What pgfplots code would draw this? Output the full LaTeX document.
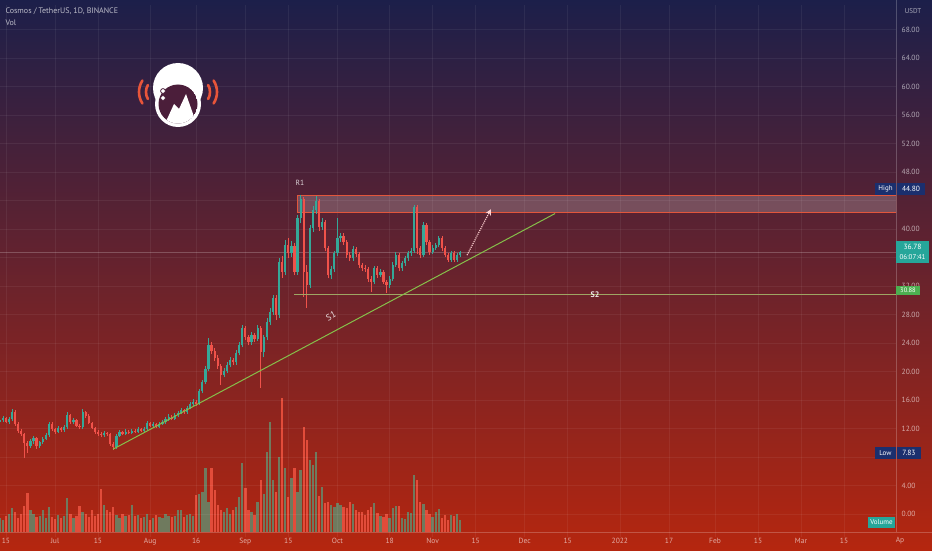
\documentclass[border=0pt]{standalone}
\usepackage{fontspec}
\setmainfont{PT Sans}
\usepackage{pgfplots}
\pgfplotsset{compat=1.18}
\usepackage{pgfplotstable}
\usetikzlibrary{arrows.meta}

\definecolor{bgtop}{HTML}{1C1F4A}
\definecolor{bgmid}{HTML}{6E1F30}
\definecolor{bgbot}{HTML}{B5260F}
\definecolor{upc}{HTML}{35A898}
\definecolor{dnc}{HTML}{F0524A}
\definecolor{volup}{HTML}{6F7A5E}
\definecolor{voldn}{HTML}{E24C3A}
\definecolor{sone}{HTML}{86BF4A}
\definecolor{stwo}{HTML}{9EA663}
\definecolor{zone}{HTML}{E2563C}
\definecolor{navy}{HTML}{1B2F6E}
\definecolor{tealbox}{HTML}{26A69A}
\definecolor{lgreen}{HTML}{4CAF50}
\definecolor{orng}{HTML}{E8553A}
\definecolor{visor}{HTML}{4B1E3A}

% day (0 = 1 Jul 2021), open, high, low, close, volume
\pgfplotstableread{
d o h l c v
-18 13.0 13.6 12.8 13.2 14
-17 13.2 13.8 13.0 13.5 12
-16 13.5 13.7 12.8 13.0 16
-15 13.0 13.6 12.7 13.3 18
-14 13.3 14.8 13.1 14.4 24
-13 14.4 14.6 12.4 12.6 20
-12 12.6 12.9 11.4 11.7 14
-11 11.7 12.0 11.0 11.2 18
-10 11.2 11.4 7.83 10.0 26
-9 10.0 10.3 8.6 9.6 39
-8 9.6 10.5 9.3 10.2 22
-7 10.2 11.0 9.9 10.7 18
-6 10.7 10.9 9.2 9.5 15
-5 9.5 10.3 9.3 10.1 16
-4 10.1 10.9 9.9 10.6 22
-3 10.6 11.4 10.4 11.1 14
-2 11.1 13.0 10.9 12.7 25
-1 12.7 12.9 11.7 11.9 15
0 11.9 12.1 11.3 11.6 13
1 11.6 12.4 11.4 12.1 17
2 12.1 12.3 11.6 11.8 14
3 11.8 12.5 11.6 12.2 16
4 12.2 14.3 12.0 13.9 34
5 13.9 14.1 12.7 12.9 18
6 12.9 13.5 12.6 13.2 14
7 13.2 13.4 12.2 12.4 16
8 12.4 12.7 11.9 12.2 26
9 12.2 14.7 12.0 14.3 20
10 14.3 14.5 13.5 13.8 18
11 13.8 14.0 12.6 12.8 15
12 12.8 13.0 11.9 12.1 22
13 12.1 12.3 11.3 11.5 16
14 11.5 11.8 11.0 11.3 18
15 11.3 11.6 10.8 11.1 43
16 11.1 11.7 10.9 11.4 27
17 11.4 11.6 11.0 11.2 22
18 11.2 11.4 9.6 9.8 20
19 9.8 10.1 9.0 9.4 25
20 9.4 11.3 9.2 11.0 17
21 11.0 11.8 10.8 11.5 14
22 11.5 11.7 11.1 11.3 18
23 11.3 11.9 11.1 11.6 16
24 11.6 11.8 11.2 11.4 17
25 11.4 12.0 11.2 11.7 27
26 11.7 11.9 11.4 11.6 16
27 11.6 12.2 11.4 11.9 17
28 11.9 12.1 11.5 11.7 14
29 11.7 12.3 11.5 12.0 15
30 12.0 13.1 11.8 12.8 18
31 12.8 13.0 12.2 12.4 12
32 12.4 12.9 12.2 12.6 14
33 12.6 12.8 12.1 12.3 17
34 12.3 13.0 12.1 12.7 15
35 12.7 13.2 12.5 12.9 14
36 12.9 13.6 12.7 13.3 18
37 13.3 14.0 13.1 13.7 16
38 13.7 13.9 13.2 13.4 15
39 13.4 14.2 13.2 13.9 16
40 13.9 14.5 13.7 14.2 22
41 14.2 14.9 14.0 14.6 22
42 14.6 14.8 14.1 14.3 15
43 14.3 15.2 14.1 14.9 17
44 14.9 15.7 14.7 15.4 18
45 15.4 16.2 15.2 15.8 16
46 15.8 16.0 15.2 15.5 37
47 15.5 17.6 15.3 17.3 38
48 17.3 18.9 17.0 18.5 40
49 18.5 20.8 18.2 20.4 64
50 20.4 24.7 20.1 23.8 30
51 23.8 24.2 22.5 22.9 64
52 22.9 23.3 21.5 21.9 42
53 21.9 22.3 20.4 20.8 27
54 20.8 21.1 18.1 19.5 22
55 19.5 20.5 19.2 20.1 20
56 20.1 21.3 19.8 20.9 24
57 20.9 22.0 20.6 21.6 18
58 21.6 21.9 20.9 21.3 22
59 21.3 23.0 21.0 22.6 25
60 22.6 24.1 22.3 23.7 35
61 23.7 26.5 23.4 26.1 69
62 26.1 26.4 24.5 24.9 44
63 24.9 25.2 23.7 24.1 22
64 24.1 25.5 23.8 25.1 20
65 25.1 25.4 24.2 24.6 17
66 24.6 26.6 24.3 26.1 30
67 26.1 26.4 17.7 22.7 52
68 22.7 25.2 22.0 24.8 38
69 24.8 27.5 24.4 27.0 80
70 27.0 28.9 26.5 28.4 110
71 28.4 30.8 28.0 30.3 52
72 30.3 30.7 27.3 28.0 40
73 28.0 35.9 27.6 35.4 75
74 35.4 36.2 33.2 34.0 134
75 34.0 38.5 33.6 37.8 64
76 37.8 38.8 36.0 36.6 35
77 36.6 38.4 36.1 37.6 54
78 37.6 38.0 33.5 34.0 64
79 34.0 42.0 33.6 41.5 40
80 41.5 44.8 40.8 44.2 62
81 44.2 44.5 30.5 34.0 105
82 34.0 35.0 29.0 32.2 92
83 32.2 40.6 31.8 40.1 72
84 40.1 43.2 39.6 42.7 67
85 42.7 44.6 42.2 44.0 80
86 44.0 44.3 39.8 40.3 36
87 40.3 41.6 39.9 41.0 45
88 41.0 41.3 36.9 37.3 29
89 37.3 37.6 33.1 33.6 30
90 33.6 34.9 33.0 34.4 27
91 34.4 37.0 34.0 36.6 25
92 36.6 41.5 36.2 38.7 29
93 38.7 39.5 38.2 39.0 27
94 39.0 39.4 37.8 38.2 25
95 38.2 38.5 36.0 36.4 24
96 36.4 36.8 35.5 35.9 30
97 35.9 37.6 35.6 37.2 28
98 37.2 37.5 36.1 36.5 22
99 36.5 36.8 34.6 35.0 20
100 35.0 35.3 34.2 34.6 20
101 34.6 35.0 34.0 34.4 17
102 34.4 34.7 32.6 33.0 22
103 33.0 33.4 31.2 32.6 25
104 32.6 34.9 32.3 34.5 29
105 34.5 34.8 33.2 33.6 19
106 33.6 34.4 33.3 34.0 16
107 34.0 34.3 32.3 32.6 15
108 32.6 32.9 31.1 32.1 18
109 32.1 33.4 31.8 33.0 14
110 33.0 35.4 32.7 35.0 24
111 35.0 36.8 34.7 36.4 26
112 36.4 36.7 34.1 34.5 26
113 34.5 35.6 34.2 35.2 14
114 35.2 36.3 34.9 35.9 13
115 35.9 37.0 35.6 36.6 20
116 36.6 37.3 36.3 36.9 19
117 36.9 43.4 36.6 43.1 57
118 43.1 43.4 36.5 37.3 52
119 37.3 37.7 35.9 36.4 30
120 36.4 41.0 36.1 40.6 28
121 40.6 40.9 37.8 38.2 22
122 38.2 38.5 36.4 36.8 18
123 36.8 37.8 36.5 37.4 15
124 37.4 38.1 37.1 37.8 20
125 37.8 39.1 37.5 38.7 23
126 38.7 39.0 36.9 37.3 14
127 37.3 37.6 36.1 36.4 17
128 36.4 36.7 35.4 35.7 12
129 35.7 36.9 35.4 36.6 17
130 36.6 36.9 35.4 35.7 16
131 35.7 36.7 35.4 36.4 18
132 36.4 37.0 36.1 36.78 12
}\candles

\pgfplotsset{
  up only/.style={y filter/.expression={\thisrow{c}<\thisrow{o} ? nan : y}},
  down only/.style={y filter/.expression={\thisrow{c}<\thisrow{o} ? y : nan}},
  chart frame/.style={at={(0,18)}, anchor=south west, scale only axis,
    width=896pt, height=532pt, xmin=-17.92, xmax=273.94},
}

\begin{document}
\begin{tikzpicture}[x=1pt,y=1pt]
\useasboundingbox (0,0) rectangle (932,550);
\shade[top color=bgtop, middle color=bgmid, bottom color=bgbot] (0,0) rectangle (932,550);

% volume pane
\begin{axis}[chart frame, ymin=0, ymax=532, hide axis]
  \addplot[up only, ycomb, draw=volup, line width=2.3pt, mark=none] table[x=d, y=v] {\candles};
  \addplot[down only, ycomb, draw=voldn, line width=2.3pt, mark=none] table[x=d, y=v] {\candles};
\end{axis}

% price pane
\begin{axis}[chart frame,
  ymin=-3.23, ymax=71.44,
  axis line style={draw=none},
  major tick length=0pt,
  xtick={-16,0,14,31,46,62,76,92,109,123,137,153,167,184,200,215,229,243,257},
  xticklabels={15,Jul,15,Aug,16,Sep,15,Oct,18,Nov,15,Dec,15,2022,17,Feb,15,Mar,15},
  ytick={0,4,12,16,20,24,28,32,40,48,52,56,60,64,68},
  extra y ticks={8,36,44},
  extra y tick labels={},
  yticklabel pos=right,
  grid=major,
  grid style={white, opacity=0.06, line width=0.5pt},
  tick label style={font=\fontsize{7.5}{9}\selectfont, text=white, text opacity=0.62},
  yticklabel style={anchor=west, xshift=5pt, inner sep=0.5pt,
    /pgf/number format/.cd, fixed, fixed zerofill, precision=2, assume math mode=true},
  xticklabel style={anchor=center, yshift=-4pt},
]
  % R1 zone
  \addplot[fill=white, fill opacity=0.2, draw=zone, line width=0.8pt]
    coordinates {(78.8,42.35) (273.94,42.35) (273.94,44.8) (78.8,44.8)} -- cycle;
  % last price line
  \addplot[white, opacity=0.22, line width=0.5pt] coordinates {(-17.92,36.78) (273.94,36.78)};
  % wicks
  \addplot[up only, draw=upc, line width=0.6pt, mark=none,
    quiver={u=0, v=\thisrow{h}-\thisrow{l}}] table[x=d, y=l] {\candles};
  \addplot[down only, draw=dnc, line width=0.6pt, mark=none,
    quiver={u=0, v=\thisrow{h}-\thisrow{l}}] table[x=d, y=l] {\candles};
  % bodies
  \addplot[up only, draw=upc, line width=2.2pt, mark=none,
    quiver={u=0, v={max(abs(\thisrow{c}-\thisrow{o}),0.12)}}]
    table[x=d, y expr={min(\thisrow{o},\thisrow{c})}] {\candles};
  \addplot[down only, draw=dnc, line width=2.2pt, mark=none,
    quiver={u=0, v={max(abs(\thisrow{c}-\thisrow{o}),0.12)}}]
    table[x=d, y expr={min(\thisrow{o},\thisrow{c})}] {\candles};
  % S2 support and S1 trendline
  \addplot[stwo, line width=1pt] coordinates {(77.9,30.88) (273.94,30.88)};
  \addplot[sone, line width=1pt] coordinates {(18.9,9.12) (162.9,42.2)};
  % projected move
  \addplot[pink!70!white, densely dotted, line width=1.1pt,
    -{Stealth[length=6pt, width=6pt, open]}] coordinates {(134.2,36.35) (142.0,42.8)};
\end{axis}

% pane separators
\draw[white, opacity=0.22, line width=0.5pt] (896,18) -- (896,550) (0,18) -- (932,18);

% header
\node[anchor=west, font=\fontsize{8}{9}\selectfont, text=white, text opacity=0.7] at (2,539) {Cosmos / TetherUS, 1D, BINANCE};
\node[anchor=west, font=\fontsize{8}{9}\selectfont, text=white, text opacity=0.7] at (2,527) {Vol};
\node[font=\fontsize{7}{8}\selectfont, text=white, text opacity=0.62] at (913,539) {USDT};
\node[font=\fontsize{7.5}{9}\selectfont, text=white, text opacity=0.62] at (900,9) {Ap};

% logo
\fill[white] (178,462) circle[radius=25];
\fill[white] (178,446) circle[radius=23];
\begin{scope}
  \clip (178,446) circle[radius=19.5];
  \fill[visor] (178,446) circle[radius=19.5];
  \fill[white] (163,422) -- (174,446) -- (179,441) -- (186,456) -- (198,422) -- cycle;
\end{scope}
\fill[white, draw=visor, line width=0.8pt] (163,459) circle[radius=2.4] (163,452) circle[radius=2.4];
\begin{scope}[orng, line width=2.6pt, line cap=round]
  \draw ([shift={(147:21)}]160,458) arc[start angle=147, end angle=213, radius=21];
  \draw ([shift={(150:14)}]160,458) arc[start angle=150, end angle=210, radius=14];
  \draw ([shift={(-33:21)}]196,458) arc[start angle=-33, end angle=33, radius=21];
  \draw ([shift={(-30:14)}]196,458) arc[start angle=-30, end angle=30, radius=14];
\end{scope}

% annotations
\node[font=\fontsize{7.5}{9}\selectfont, text=white, text opacity=0.8] at (300,367) {R1};
\node[font=\fontsize{8}{9}\selectfont\bfseries, text=white, text opacity=0.9] at (595,255) {S2};
\node[font=\fontsize{9}{10}\selectfont, text=white, text opacity=0.85, rotate=28, inner sep=0.5pt] at (331,234) {S1};

% price-scale tags
\fill[navy] (875,355) rectangle (896,367);
\node[font=\fontsize{7}{8}\selectfont, text=white] at (885.5,361) {High};
\fill[navy] (897,355) rectangle (925,367);
\node[font=\fontsize{7.5}{9}\selectfont, text=white] at (911,361) {44.80};
\fill[navy] (875,91) rectangle (896,103);
\node[font=\fontsize{7}{8}\selectfont, text=white] at (885.5,97) {Low};
\fill[navy] (897,91) rectangle (921,103);
\node[font=\fontsize{7.5}{9}\selectfont, text=white] at (909,97) {7.83};
\fill[tealbox] (896,287) rectangle (929,309);
\node[font=\fontsize{7.5}{9}\selectfont, text=white] at (912.5,303) {36.78};
\node[font=\fontsize{7}{8}\selectfont, text=white] at (912.5,293) {06:07:41};
\fill[lgreen] (896,255) rectangle (920,264.5);
\node[font=\fontsize{6.5}{7}\selectfont, text=white, inner sep=0pt] at (908,259.5) {30.88};
\fill[tealbox] (868,22) rectangle (895,33);
\node[font=\fontsize{7}{8}\selectfont, text=white] at (881.5,27.5) {Volume};
\end{tikzpicture}
\end{document}
